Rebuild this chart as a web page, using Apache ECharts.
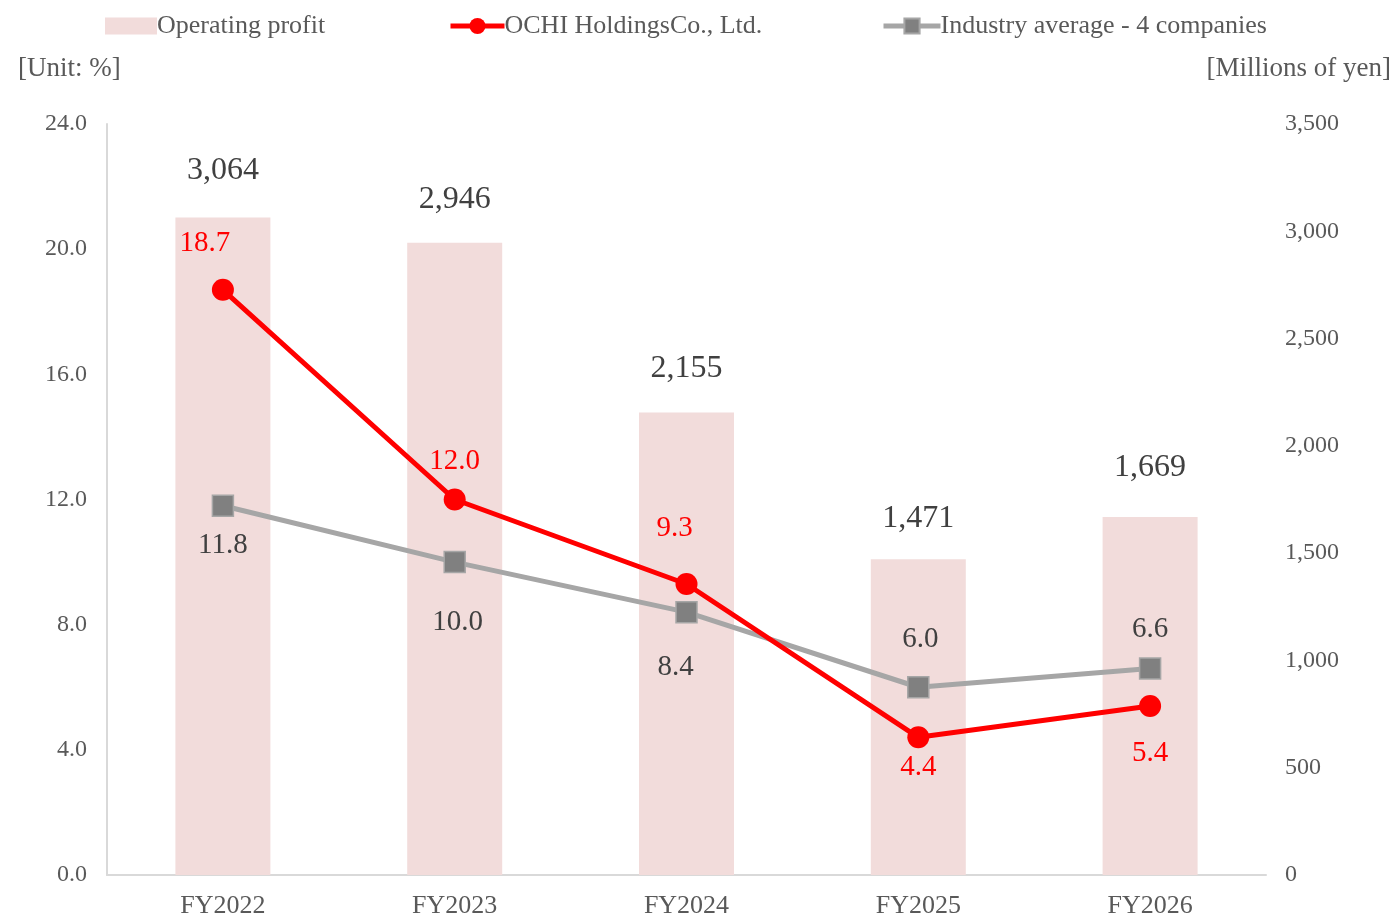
<!DOCTYPE html>
<html><head><meta charset="utf-8">
<script src="https://cdn.jsdelivr.net/npm/echarts@6/dist/echarts.min.js"></script>
<style>html,body{margin:0;padding:0;background:#fff}#c{width:1398px;height:919px}</style>
</head><body><div id="c"></div>
<script>
const categories = ['FY2022','FY2023','FY2024','FY2025','FY2026'];
const operatingProfit = [3064, 2946, 2155, 1471, 1669];
const ochiMargin = [18.7, 12.0, 9.3, 4.4, 5.4];
const industryAvg = [11.8, 10.0, 8.4, 6.0, 6.6];
const leftTicks = {min: 0, max: 24, interval: 4};
const rightTicks = {min: 0, max: 3500, interval: 500};

// label placement styles (position, distance, x offset)
const barLabelDistance = [31, 27, 28, 25, 33];
const ochiLabelStyle = [['top',21,-18],['top',13,0],['top',30,-12],['bottom',5,0],['bottom',22,0]];
const industryLabelStyle = [['bottom',14,0],['bottom',35,3],['bottom',29,-11],['top',22,2],['top',13,0]];

const FONT = '"Liberation Serif", "Times New Roman", serif';

function build(vals, styles, color){
  return vals.map((v,i)=>({value:v, label:{position:styles[i][0], distance:styles[i][1], offset:[styles[i][2],0], color:color}}));
}

const chart = echarts.init(document.getElementById('c'));
const legendCommon = {top: 8, itemGap: 0, textStyle:{fontFamily:FONT, fontSize:26, color:'#595959', padding:[0,0,0,-5]}};
chart.setOption({
  animation:false,
  textStyle:{fontFamily:FONT},
  grid:{left:107, right:132, top:124, bottom:44},
  legend:[
    Object.assign({left:100, data:[{name:'Operating profit', icon:'rect'}], itemWidth:52, itemHeight:17}, legendCommon),
    Object.assign({left:443, data:['OCHI HoldingsCo., Ltd.'], itemWidth:54, itemHeight:20, lineStyle:{width:5}}, legendCommon),
    Object.assign({left:876, data:['Industry average - 4 companies'], itemWidth:57, itemHeight:19, lineStyle:{width:5}}, legendCommon)
  ],
  graphic:[
    {type:'text', left:18, top:55, style:{text:'[Unit: %]', font:'27px '+FONT, fill:'#595959'}},
    {type:'text', right:7, top:55, style:{text:'[Millions of yen]', font:'27px '+FONT, fill:'#595959'}}
  ],
  xAxis:{type:'category', data:categories,
    axisLine:{lineStyle:{color:'#d9d9d9', width:2}}, axisTick:{show:false},
    axisLabel:{fontFamily:FONT, fontSize:26, color:'#595959', margin:18}},
  yAxis:[
    {type:'value', min:leftTicks.min, max:leftTicks.max, interval:leftTicks.interval,
      axisLine:{show:true, lineStyle:{color:'#d9d9d9', width:2}}, axisTick:{show:false}, splitLine:{show:false},
      axisLabel:{fontFamily:FONT, fontSize:24, color:'#595959', margin:20, formatter:v=>v.toFixed(1)}},
    {type:'value', min:rightTicks.min, max:rightTicks.max, interval:rightTicks.interval,
      axisLine:{show:false}, axisTick:{show:false}, splitLine:{show:false},
      axisLabel:{fontFamily:FONT, fontSize:24, color:'#595959', margin:19, formatter:v=>v.toLocaleString('en-US')}}
  ],
  series:[
    {name:'Operating profit', type:'bar', yAxisIndex:1, barWidth:95,
      data:operatingProfit.map((v,i)=>({value:v, label:{distance:barLabelDistance[i]}})),
      itemStyle:{color:'#f2dcdb'}, z:1,
      label:{show:true, position:'top', fontFamily:FONT, fontSize:32, color:'#404040',
        formatter:p=>p.value.toLocaleString('en-US')}},
    {name:'OCHI HoldingsCo., Ltd.', type:'line', yAxisIndex:0, data:build(ochiMargin, ochiLabelStyle, '#ff0000'),
      symbol:'circle', symbolSize:22, lineStyle:{color:'#ff0000', width:5}, itemStyle:{color:'#ff0000'}, z:4,
      label:{show:true, fontFamily:FONT, fontSize:29, formatter:p=>p.value.toFixed(1)}},
    {name:'Industry average - 4 companies', type:'line', yAxisIndex:0, data:build(industryAvg, industryLabelStyle, '#404040'),
      symbol:'rect', symbolSize:21, lineStyle:{color:'#a6a6a6', width:5}, itemStyle:{color:'#808080', borderColor:'#a6a6a6', borderWidth:1.5}, z:3,
      label:{show:true, fontFamily:FONT, fontSize:29, formatter:p=>p.value.toFixed(1)}}
  ]
});
</script></body></html>
